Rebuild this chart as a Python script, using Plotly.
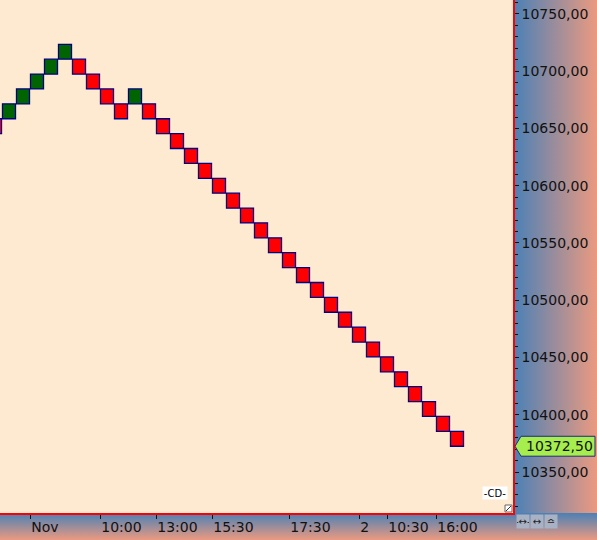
import plotly.graph_objects as go

## Данные кирпичей (ренко), размер кирпича 13 пунктов
brick_size = 13
brick_index = list(range(-1, 33))
brick_low = [10645.5, 10658.5, 10671.5, 10684.5, 10697.5, 10710.5,
             10697.5, 10684.5, 10671.5, 10658.5, 10671.5, 10658.5,
             10645.5, 10632.5, 10619.5, 10606.5, 10593.5, 10580.5,
             10567.5, 10554.5, 10541.5, 10528.5, 10515.5, 10502.5,
             10489.5, 10476.5, 10463.5, 10450.5, 10437.5, 10424.5,
             10411.5, 10398.5, 10385.5, 10372.5]
brick_up = [0, 1, 1, 1, 1, 1, 0, 0, 0, 0, 1, 0,
            0, 0, 0, 0, 0, 0, 0, 0, 0, 0, 0, 0,
            0, 0, 0, 0, 0, 0, 0, 0, 0, 0]

## Подписи оси времени
time_ticks = [1.5, 6.5, 10.5, 14.5, 20, 25, 27, 30.5]
time_labels = ["Nov", "10:00", "13:00", "15:30", "17:30", "2", "10:30", "16:00"]

last_price = 10372.5

W, H = 597, 540
PX, PY = 513, 513  # граница области графика в пикселях

bg = "#FDEAD0"
steel = "#4A80B6"
salmon = "#EB9A80"
font = dict(family="DejaVu Sans", size=14, color="#111111")

fig = go.Figure()

## Градиентные панели осей (на вспомогательных осях в пикселях)
fig.add_trace(go.Scatter(
    x=[PX, W, W, PX, PX], y=[0, 0, PY, PY, 0],
    xaxis="x", yaxis="y", mode="none", fill="toself",
    fillgradient=dict(type="horizontal", start=PX, stop=W,
                      colorscale=[[0, steel], [1, salmon]]),
    hoverinfo="skip", showlegend=False))
fig.add_trace(go.Scatter(
    x=[0, W, W, 0, 0], y=[PY, PY, H, H, PY],
    xaxis="x", yaxis="y", mode="none", fill="toself",
    fillgradient=dict(type="vertical", start=PY, stop=H,
                      colorscale=[[0, steel], [1, salmon]]),
    hoverinfo="skip", showlegend=False))

## Кирпичи
for up, color in [(1, "#006400"), (0, "#FF0000")]:
    xs = [i for i, u in zip(brick_index, brick_up) if u == up]
    lows = [l for l, u in zip(brick_low, brick_up) if u == up]
    fig.add_trace(go.Bar(
        x=xs, y=[brick_size] * len(xs), base=lows,
        width=0.93, xaxis="x2", yaxis="y2",
        marker=dict(color=color, line=dict(color="#000080", width=1.3)),
        showlegend=False))

## Метка последней цены
tag_h = 8.7
fig.add_shape(type="path", xref="paper", yref="y2",
              path=f"M {515/W},{last_price} L {521/W},{last_price + tag_h} "
                   f"L {595/W},{last_price + tag_h} L {595/W},{last_price - tag_h} "
                   f"L {521/W},{last_price - tag_h} Z",
              fillcolor="#A6EE4E", line=dict(color="#1C2A80", width=1))
fig.add_annotation(xref="paper", yref="y2", x=559/W, y=last_price,
                   text=f"{last_price:.2f}".replace(".", ","), showarrow=False,
                   font=font, xanchor="center", yanchor="middle")

## Значок соединения и уголок
fig.add_annotation(xref="paper", yref="paper", x=495/W, y=1 - 493/H,
                   text="-CD-", showarrow=False, bgcolor="white",
                   width=24, height=12,
                   font=dict(family="DejaVu Sans", size=10, color="black"),
                   borderpad=0, xanchor="center", yanchor="middle")
fig.add_shape(type="rect", xref="paper", yref="paper",
              x0=505/W, x1=512/W, y0=1 - 512/H, y1=1 - 505/H,
              fillcolor="white", line=dict(color="#666666", width=1))
fig.add_shape(type="line", xref="paper", yref="paper",
              x0=506/W, x1=511/W, y0=1 - 511/H, y1=1 - 506/H,
              line=dict(color="#333333", width=1))

## Кнопки в правом нижнем углу
for i, t in enumerate(["-↔-", "↔", "≏"]):
    fig.add_annotation(xref="paper", yref="paper", x=(516 + 14 * i)/W, y=1 - 514/H,
                       text=t, showarrow=False, bgcolor="#A8B2C4",
                       width=12, height=13, borderpad=0,
                       font=dict(family="DejaVu Sans", size=10, color="#222222"),
                       xanchor="left", yanchor="top")

fig.update_layout(
    width=W, height=H,
    margin=dict(l=0, r=0, t=0, b=0),
    paper_bgcolor=bg, plot_bgcolor=bg,
    barmode="overlay", separators=", ",
    font=font,
    xaxis=dict(domain=[0, 1], range=[0, W], visible=False, fixedrange=True),
    yaxis=dict(domain=[0, 1], range=[H, 0], visible=False, fixedrange=True),
    xaxis2=dict(domain=[0, PX / W], range=[-0.643, 36], anchor="y2",
                showgrid=False, zeroline=False,
                showline=True, linecolor="#FF0000", linewidth=1.5,
                tickmode="array", tickvals=time_ticks, ticktext=time_labels,
                ticks="outside", ticklen=4, tickcolor="#111111", tickangle=0,
                ticklabelposition="outside right", tickfont=font),
    yaxis2=dict(domain=[1 - PY / H, 1], range=[10314.2, 10762.2], anchor="x2",
                side="right", showgrid=False, zeroline=False,
                showline=True, linecolor="#FF0000", linewidth=1.5,
                dtick=50, tickformat=".2f",
                ticks="outside", ticklen=4, tickcolor="#111111",
                minor=dict(dtick=10, ticks="outside", ticklen=3, tickcolor="#111111"),
                tickfont=font),
)

## убираем отступ страницы, чтобы график занял всё окно
fig.write_html("out.html", config={"displayModeBar": False},
               post_script="document.body.style.margin='0';")
